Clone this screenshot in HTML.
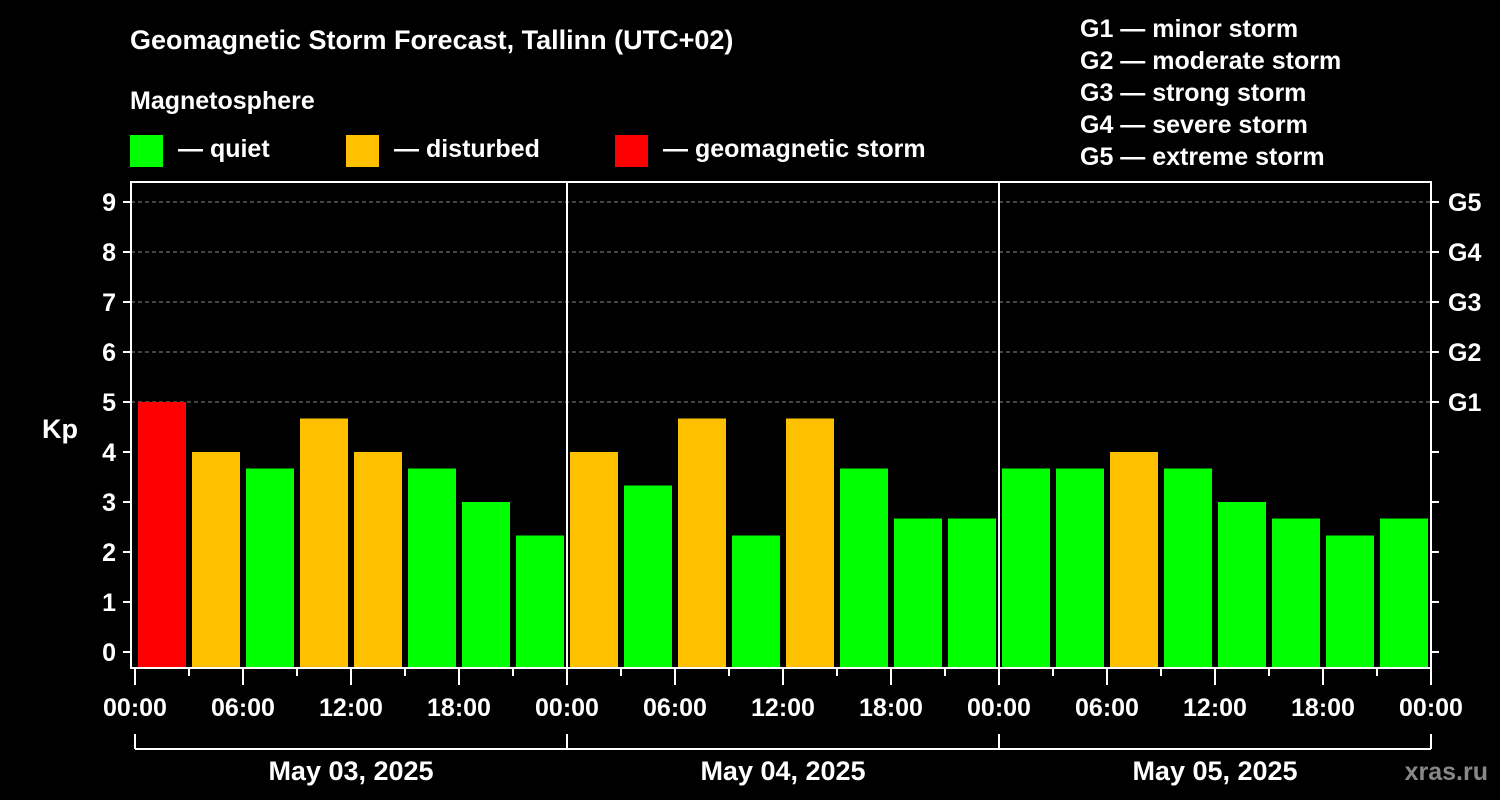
<!DOCTYPE html>
<html><head><meta charset="utf-8"><style>
html,body{margin:0;padding:0;background:#000;}
svg{display:block;font-family:"Liberation Sans",Arial,sans-serif;font-weight:bold;}
</style></head><body>
<svg id="c" width="1500" height="800" viewBox="0 0 1500 800">
<rect x="0" y="0" width="1500" height="800" fill="#000"/>
<text x="130" y="49" fill="#fff" font-size="27">Geomagnetic Storm Forecast, Tallinn (UTC+02)</text>
<text x="130" y="109" fill="#fff" font-size="25">Magnetosphere</text>
<g><rect x="130" y="135" width="33" height="32" fill="#00ff00"/><text x="178" y="157" fill="#fff" font-size="25">— quiet</text></g>
<g><rect x="346" y="135" width="33" height="32" fill="#ffc000"/><text x="394" y="157" fill="#fff" font-size="25">— disturbed</text></g>
<g><rect x="615" y="135" width="33" height="32" fill="#ff0000"/><text x="663" y="157" fill="#fff" font-size="25">— geomagnetic storm</text></g>
<g fill="#fff" font-size="25">
<text x="1080" y="37">G1 — minor storm</text>
<text x="1080" y="69">G2 — moderate storm</text>
<text x="1080" y="101">G3 — strong storm</text>
<text x="1080" y="133">G4 — severe storm</text>
<text x="1080" y="165">G5 — extreme storm</text>
</g>
<text x="42" y="438" fill="#fff" font-size="27">Kp</text>
<text x="1488" y="780" fill="#888" font-size="25" text-anchor="end">xras.ru</text>
<g id="plot"></g>
</svg>
<script>
const kpValues=[3.33,5,4,3.67,4.67,4,3.67,3,2.33,4,3.33,4.67,2.33,4.67,3.67,2.67,2.67,3.67,3.67,4,3.67,3,2.67,2.33,2.67];
const hourTicks=["00:00","06:00","12:00","18:00"];
const dayLabels=["May 03, 2025","May 04, 2025","May 05, 2025"];
const kpTicks=[0,1,2,3,4,5,6,7,8,9];
const gLabels=["G1","G2","G3","G4","G5"];

const NS="http://www.w3.org/2000/svg";
const g=document.getElementById('plot');
const L=131,R=1431,T=182,B=668;
const x0=135,pxPerHour=18;
const xs=h=>x0+h*pxPerHour;
const ys=v=>652-v*50;
function mk(tag,attrs,parent){const e=document.createElementNS(NS,tag);for(const k in attrs)e.setAttribute(k,attrs[k]);(parent||g).appendChild(e);return e;}
// clip
const defs=mk('defs',{});const cp=mk('clipPath',{id:'cp'},defs);mk('rect',{x:L+1,y:T,width:R-L-1,height:B-T},cp);
// grid
for(let v=5;v<=9;v++){const e=mk('line',{x1:L,x2:R,y1:ys(v),y2:ys(v),stroke:'#888','stroke-dasharray':'4,3','stroke-width':1});

}
// bars
const bg=mk('g',{'clip-path':'url(#cp)'});
kpValues.forEach((v,i)=>{const c=xs(-1.5+3*i);const col=v>=5?'#ff0000':(v>=4?'#ffc000':'#00ff00');
const r=mk('rect',{x:c-24,y:ys(v),width:48,height:B-ys(v),fill:col},bg);

});
// day separators
for(let d=1;d<3;d++){const e=mk('line',{x1:xs(24*d),x2:xs(24*d),y1:T,y2:B,stroke:'#fff','stroke-width':2});

}
// frame
const fr=mk('rect',{x:L,y:T,width:R-L,height:B-T,fill:'none',stroke:'#fff','stroke-width':2});


// y ticks
kpTicks.forEach(v=>{mk('line',{x1:L-8,x2:L,y1:ys(v),y2:ys(v),stroke:'#fff','stroke-width':2});
mk('line',{x1:R,x2:R+8,y1:ys(v),y2:ys(v),stroke:'#fff','stroke-width':2});
const t=mk('text',{x:L-15,y:ys(v)+9,fill:'#fff','font-size':25,'text-anchor':'end'});t.textContent=v;

});
gLabels.forEach((s,i)=>{const t=mk('text',{x:1448,y:ys(5+i)+9,fill:'#fff','font-size':25});t.textContent=s;

});
// x ticks
for(let h=0;h<=72;h+=3){const maj=h%6===0;mk('line',{x1:xs(h),x2:xs(h),y1:B,y2:B+(maj?17:8),stroke:'#fff','stroke-width':2});
if(maj){const t=mk('text',{x:xs(h),y:716,fill:'#fff','font-size':25,'text-anchor':'middle'});t.textContent=hourTicks[(h/6)%4];

}}
// day brackets
mk('line',{x1:xs(0),x2:xs(72),y1:749,y2:749,stroke:'#fff','stroke-width':2});
for(let d=0;d<=3;d++)mk('line',{x1:xs(24*d),x2:xs(24*d),y1:734,y2:749,stroke:'#fff','stroke-width':2});
dayLabels.forEach((s,i)=>{const t=mk('text',{x:xs(24*i+12),y:780,fill:'#fff','font-size':27,'text-anchor':'middle'});t.textContent=s;

});
</script>
</body></html>
